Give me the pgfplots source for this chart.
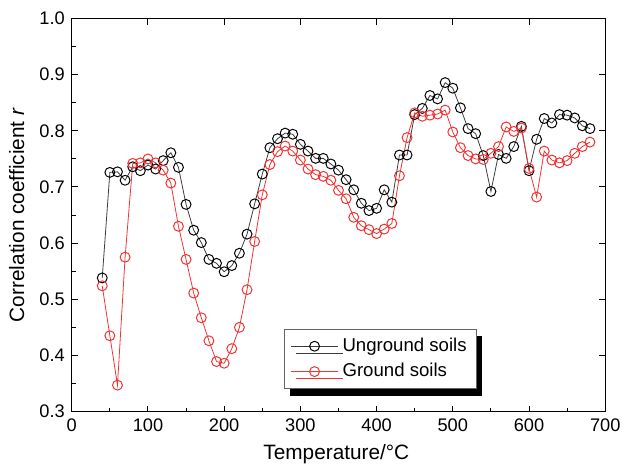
\documentclass[border=0pt]{standalone}
\usepackage{pgfplots}
\pgfplotsset{compat=1.18}
\usepackage{pgfplotstable}
\usepackage{fontspec}
\setmainfont{Liberation Sans}
\usetikzlibrary{shadows}
\definecolor{myred}{RGB}{240,50,50}
\definecolor{mygray}{RGB}{60,60,60}

\pgfplotstableread{
T r
40 0.538
50 0.726
60 0.727
70 0.712
80 0.736
90 0.729
100 0.739
110 0.732
120 0.747
130 0.761
140 0.735
150 0.669
160 0.623
170 0.601
180 0.571
190 0.564
200 0.549
210 0.560
220 0.582
230 0.616
240 0.670
250 0.723
260 0.770
270 0.786
280 0.796
290 0.794
300 0.776
310 0.764
320 0.751
330 0.751
340 0.741
350 0.730
360 0.713
370 0.695
380 0.671
390 0.658
400 0.662
410 0.695
420 0.673
430 0.757
440 0.757
450 0.829
460 0.840
470 0.863
480 0.857
490 0.886
500 0.876
510 0.841
520 0.804
530 0.795
540 0.756
550 0.692
560 0.758
570 0.751
580 0.772
590 0.808
600 0.729
610 0.785
620 0.822
630 0.814
640 0.829
650 0.828
660 0.823
670 0.809
680 0.804
}\unground

\pgfplotstableread{
T r
40 0.524
50 0.435
60 0.347
70 0.575
80 0.742
90 0.743
100 0.750
110 0.743
120 0.730
130 0.707
140 0.630
150 0.571
160 0.511
170 0.467
180 0.426
190 0.389
200 0.386
210 0.412
220 0.450
230 0.517
240 0.603
250 0.686
260 0.740
270 0.763
280 0.773
290 0.764
300 0.748
310 0.732
320 0.722
330 0.719
340 0.712
350 0.694
360 0.679
370 0.646
380 0.631
390 0.624
400 0.617
410 0.625
420 0.635
430 0.720
440 0.788
450 0.832
460 0.826
470 0.828
480 0.830
490 0.837
500 0.798
510 0.770
520 0.756
530 0.750
540 0.749
550 0.760
560 0.772
570 0.807
580 0.799
590 0.805
600 0.733
610 0.682
620 0.764
630 0.748
640 0.743
650 0.747
660 0.760
670 0.772
680 0.780
}\ground

\begin{document}
\begin{tikzpicture}
\begin{axis}[
  name=ax,
  scale only axis,
  width=269.5pt, height=198.5pt,
  xmin=0, xmax=700, ymin=0.3, ymax=1.0,
  xtick={0,100,200,300,400,500,600,700},
  ytick={0.3,0.4,0.5,0.6,0.7,0.8,0.9,1.0},
  minor x tick num=1, minor y tick num=1,
  tick align=inside, tick pos=left,
  major tick length=3pt, minor tick length=2pt,
  axis line style={line width=0.6pt, black},
  every tick/.style={line width=0.5pt, black},
  /pgf/number format/assume math mode=true,
  yticklabel style={/pgf/number format/.cd, fixed, fixed zerofill, precision=1},
  xticklabel style={/pgf/number format/.cd, fixed},
  ticklabel style={font=\fontsize{9.2}{10}\selectfont},
  label style={font=\fontsize{10.5}{12}\selectfont},
  xlabel={Temperature/°C},
  ylabel={Correlation coefficient \textit{r}},
  xlabel style={at={(axis description cs:0.496,-0.109)}, anchor=center},
  ylabel style={at={(axis description cs:-0.103,0.5)}, anchor=center},
  legend style={at={(0.398,0.211)}, anchor=north west,
    draw=mygray!80, fill=white, line width=0.5pt,
    font=\fontsize{9.4}{10.8}\selectfont,
    drop shadow={shadow xshift=2.5pt, shadow yshift=-3.5pt, fill=black, opacity=1},
    inner xsep=3pt, inner ysep=2.5pt, row sep=0.5pt,
    cells={anchor=west}},
  legend image code/.code={\draw[mark repeat=2,mark phase=2] plot coordinates {(0cm,0cm)(0.42cm,0cm)(0.84cm,0cm)};},
]
\addplot[color=mygray, line width=0.4pt, mark=o, mark size=2.5pt,
  mark options={draw=black, line width=0.5pt, fill=none}] table[x=T,y=r] {\unground};
\addlegendentry{Unground soils}
\addplot[color=myred, line width=0.4pt, mark=o, mark size=2.5pt,
  mark options={draw=myred, line width=0.5pt, fill=none}] table[x=T,y=r] {\ground};
\addlegendentry{Ground soils}
\end{axis}
\begin{axis}[
  scale only axis,
  width=269.5pt, height=198.5pt,
  xmin=0, xmax=700, ymin=0.3, ymax=1.0,
  xtick={0,100,200,300,400,500,600,700},
  ytick={0.3,0.4,0.5,0.6,0.7,0.8,0.9,1.0},
  xticklabels={}, yticklabels={},
  tick align=inside, tick pos=right,
  major tick length=3pt,
  axis line style={draw=none},
  every tick/.style={line width=0.5pt, black},
]
\end{axis}
\path (ax.south west) ++(-36.25pt,-28.15pt) coordinate (bbA);
\path (ax.north east) ++(7.75pt,9.4pt) coordinate (bbB);
\path (bbA) rectangle (bbB);
\end{tikzpicture}
\end{document}
